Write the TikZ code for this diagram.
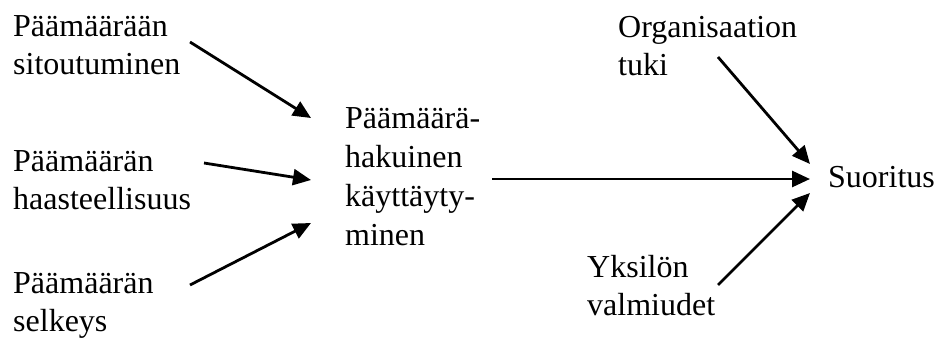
\documentclass[tikz,border=0pt]{standalone}
\usepackage{fontspec}
\setmainfont{Liberation Serif}
\usetikzlibrary{arrows.meta}
\begin{document}
\begin{tikzpicture}[x=1pt,y=-1pt,
  lbl/.style={anchor=base west,inner sep=0pt,align=left,font=\fontsize{32}{37.5}\selectfont},
  midlbl/.style={lbl,font=\fontsize{32}{39}\selectfont},
  arr/.style={line width=2.8pt,-{Triangle[length=18pt,width=16pt]}}]
\useasboundingbox (0,0) rectangle (938,338);
\node[lbl] (sit) at (13,74) {Päämäärään\\sitoutuminen};
\node[lbl] (haa) at (13,209) {Päämäärän\\haasteellisuus};
\node[lbl] (sel) at (13,331) {Päämäärän\\selkeys};
\node[midlbl] (mid) at (345,245) {Päämäärä-\\hakuinen\\käyttäyty-\\minen};
\node[lbl] (org) at (618,75) {Organisaation\\tuki};
\node[lbl] (yks) at (587,315) {Yksilön\\valmiudet};
\node[lbl] (suo) at (828,187) {Suoritus};
\coordinate (a1s) at (190,42);  \coordinate (a1e) at (311,118);
\coordinate (a2s) at (204,163); \coordinate (a2e) at (311,180);
\coordinate (a3s) at (190,285); \coordinate (a3e) at (311,223);
\coordinate (m1s) at (492,179); \coordinate (m1e) at (810,179);
\coordinate (o1s) at (718,57);  \coordinate (o1e) at (810,164);
\coordinate (y1s) at (718,285); \coordinate (y1e) at (810,193);
\draw[arr] (a1s) -- (a1e);
\draw[arr] (a2s) -- (a2e);
\draw[arr] (a3s) -- (a3e);
\draw[arr] (m1s) -- (m1e);
\draw[arr] (o1s) -- (o1e);
\draw[arr] (y1s) -- (y1e);
\end{tikzpicture}
\end{document}
